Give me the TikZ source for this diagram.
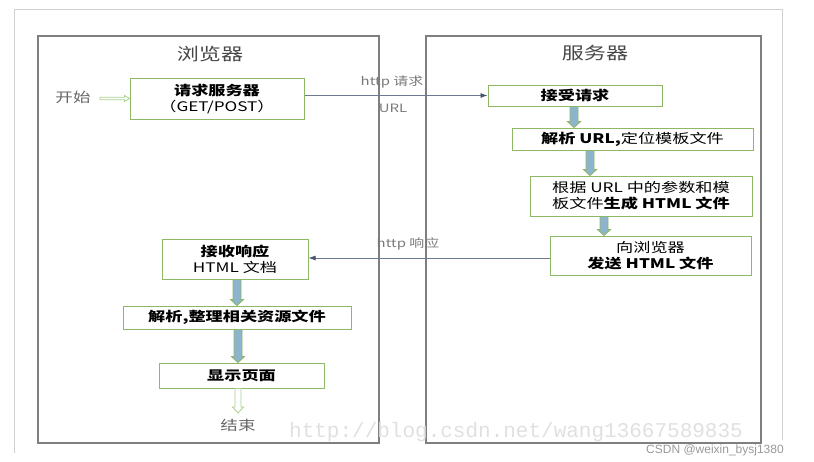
\documentclass[tikz,border=0pt]{standalone}
\usepackage{fontspec}
\setmainfont{Noto Sans CJK SC}[FakeStretch=1.3]
\newfontfamily\wmfont{Liberation Mono}
\newfontfamily\csdnfont{Liberation Sans}
\usetikzlibrary{calc,arrows.meta}
\definecolor{boxgreen}{HTML}{8DB865}
\definecolor{panelgray}{HTML}{7F7F7F}
\definecolor{framegray}{HTML}{D0D0D0}
\definecolor{linkblue}{HTML}{6B7A90}
\definecolor{tipblue}{HTML}{44546E}
\definecolor{shaftblue}{HTML}{8DB4CC}
\definecolor{lightgreen}{HTML}{A9D08E}
\definecolor{labelgray}{HTML}{7A7A7A}
\tikzset{
  panel/.style={draw=panelgray, line width=1.1pt},
  frame/.style={draw=framegray, line width=1pt},
  stepbox/.style={draw=boxgreen, line width=1pt, fill=white, inner sep=0pt,
     align=center, font=\fontsize{13.2}{16}\selectfont},
  title/.style={font=\fontsize{17}{20}\selectfont, text=black!72},
  linklabel/.style={font=\fontsize{11.5}{13}\selectfont, text=labelgray},
  plain/.style={font=\fontsize{13.5}{16}\selectfont, text=black!60},
  link/.style={draw=linkblue, line width=0.8pt, -{Latex[length=7pt,width=5pt,color=tipblue]}},
  barrow/.style={draw=boxgreen, line width=0.9pt, fill=shaftblue},
  harrow/.style={draw=lightgreen, line width=0.8pt, fill=white},
}
\newcommand\vblock[5]{%
  \draw[#1] let \p1=(#3.south), \p2=(#4.north) in
   ({#2pt-#5pt},\y1) -- ({#2pt+#5pt},\y1) -- ({#2pt+#5pt},\y2+6pt)
   -- ({#2pt+#5pt+2.5pt},\y2+6pt) -- (#2pt,\y2) -- ({#2pt-#5pt-2.5pt},\y2+6pt)
   -- ({#2pt-#5pt},\y2+6pt) -- cycle;}
\begin{document}
\begin{tikzpicture}[x=1pt,y=-1pt]
\useasboundingbox (0,0) rectangle (814,461);
% outer faint frame
\draw[frame] (14,453) -- (14,9) -- (782,9) -- (782,440);
% panels
\draw[panel] (38,36) rectangle (379,443);
\draw[panel] (426,36) rectangle (761,443);
\node[title] (tb) at (210,54) {浏览器};
\node[title] (ts) at (595,53) {服务器};
% watermarks
\node[text=black!12, inner sep=0pt, font=\wmfont\fontsize{21}{22}\selectfont] (wm) at (516,432) {http://blog.csdn.net/wang13667589835};
\node[text=black!40, inner sep=0pt, font=\csdnfont\fontsize{12}{13}\selectfont] (csdn) at (715,450) {CSDN @weixin\_bysj1380};
% browser boxes
\node[stepbox, minimum width=174pt, minimum height=41pt] (req) at (217,98.5)
  {\textbf{请求服务器}\\（GET/POST）};
\node[stepbox, minimum width=146pt, minimum height=40pt] (recv) at (235,259)
  {\textbf{接收响应}\\HTML 文档};
\node[stepbox, minimum width=228pt, minimum height=23pt] (res) at (237,317.5)
  {\textbf{解析,整理相关资源文件}};
\node[stepbox, minimum width=165pt, minimum height=25pt] (show) at (241.5,375.5)
  {\textbf{显示页面}};
% server boxes
\node[stepbox, minimum width=174pt, minimum height=21pt] (acc) at (575,95.5)
  {\textbf{接受请求}};
\node[stepbox, minimum width=241pt, minimum height=22pt] (parse) at (632.5,139)
  {\textbf{解析 URL,}定位模板文件};
\node[stepbox, minimum width=222pt, minimum height=40pt] (gen) at (641,196)
  {根据 URL 中的参数和模\\板文件\textbf{生成 HTML 文件}};
\node[stepbox, minimum width=201pt, minimum height=39pt] (send) at (650.5,255.5)
  {向浏览器\\\textbf{发送 HTML 文件}};
% start / end
\node[plain] (start) at (73,97) {开始};
\node[plain] (end) at (238,425) {结束};
\coordinate (endtip) at (238,413);
% hollow arrows
\draw[harrow] let \p1=(start.east), \p2=(req.west) in
  (\x1+6pt,\y2+1.3pt) -- (\x2-5pt,\y2+1.3pt) -- (\x2-5pt,\y2+3pt) -- (\x2,\y2)
  -- (\x2-5pt,\y2-3pt) -- (\x2-5pt,\y2-1.3pt) -- (\x1+6pt,\y2-1.3pt) -- cycle;
\draw[harrow] let \p1=(show.south), \p2=(endtip) in
  (\x2-3pt,\y1) -- (\x2+3pt,\y1) -- (\x2+3pt,\y2+6pt) -- (\x2+5.5pt,\y2+6pt) -- (\x2,\y2)
  -- (\x2-5.5pt,\y2+6pt) -- (\x2-3pt,\y2+6pt) -- cycle;
% block arrows
\vblock{barrow}{574}{acc}{parse}{4}
\vblock{barrow}{590}{parse}{gen}{4}
\vblock{barrow}{604}{gen}{send}{4}
\vblock{barrow}{237}{recv}{res}{4}
\vblock{barrow}{238}{res}{show}{4}
% http links
\draw[link] (req.east |- acc.west) -- (acc.west);
\node[linklabel] (lreq) at (392,82) {http 请求};
\node[linklabel] (lurl) at (393,108) {URL};
\draw[link] (send.west |- 0,258) -- (recv.east |- 0,258);
\node[linklabel] (lresp) at (408,244) {http 响应};
\end{tikzpicture}
\end{document}
